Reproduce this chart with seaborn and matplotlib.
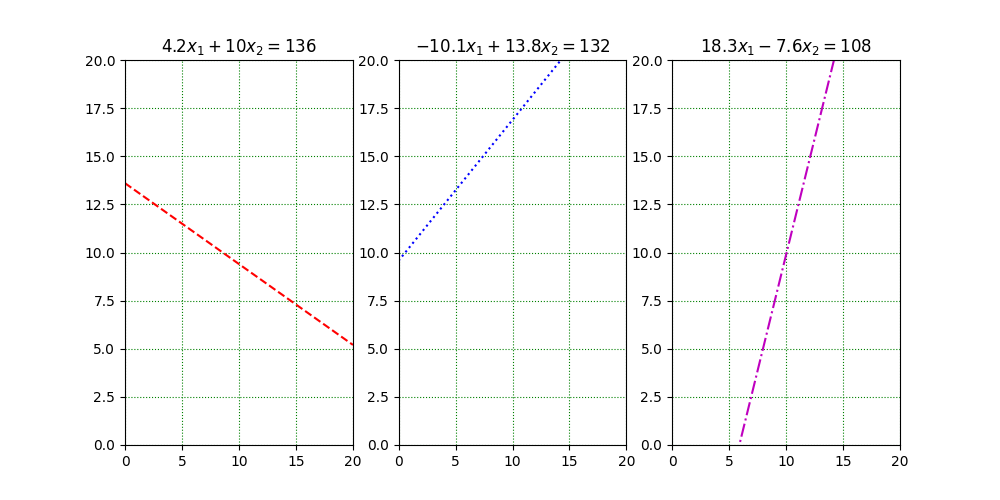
import matplotlib
matplotlib.use("Agg")
import matplotlib.pyplot as plt
import seaborn as sns

# Line end points at x1 = 0 and x1 = 20
x1_ends = [0, 20]
x2_panel1 = [13.6, 5.2]
x2_panel2 = [9.57, 24.21]
x2_panel3 = [-14.21, 33.95]

titles = [r"$4.2x_1 + 10x_2 = 136$",
          r"$-10.1x_1 + 13.8x_2 = 132$",
          r"$18.3x_1 - 7.6x_2 = 108$"]
colors = ["r", "b", "m"]
styles = ["--", ":", "-."]
series = [x2_panel1, x2_panel2, x2_panel3]

fig, axes = plt.subplots(1, 3, figsize=(10, 5), dpi=100)

for ax, y, title, c, ls in zip(axes, series, titles, colors, styles):
    sns.lineplot(x=x1_ends, y=y, ax=ax, color=c, linestyle=ls, linewidth=1.5)
    ax.set_xlim(0, 20)
    ax.set_ylim(0, 20)
    ax.set_xticks([0, 5, 10, 15, 20])
    ax.grid(True, color="g", linestyle=":")
    ax.set_title(title)

plt.savefig("out.png")
